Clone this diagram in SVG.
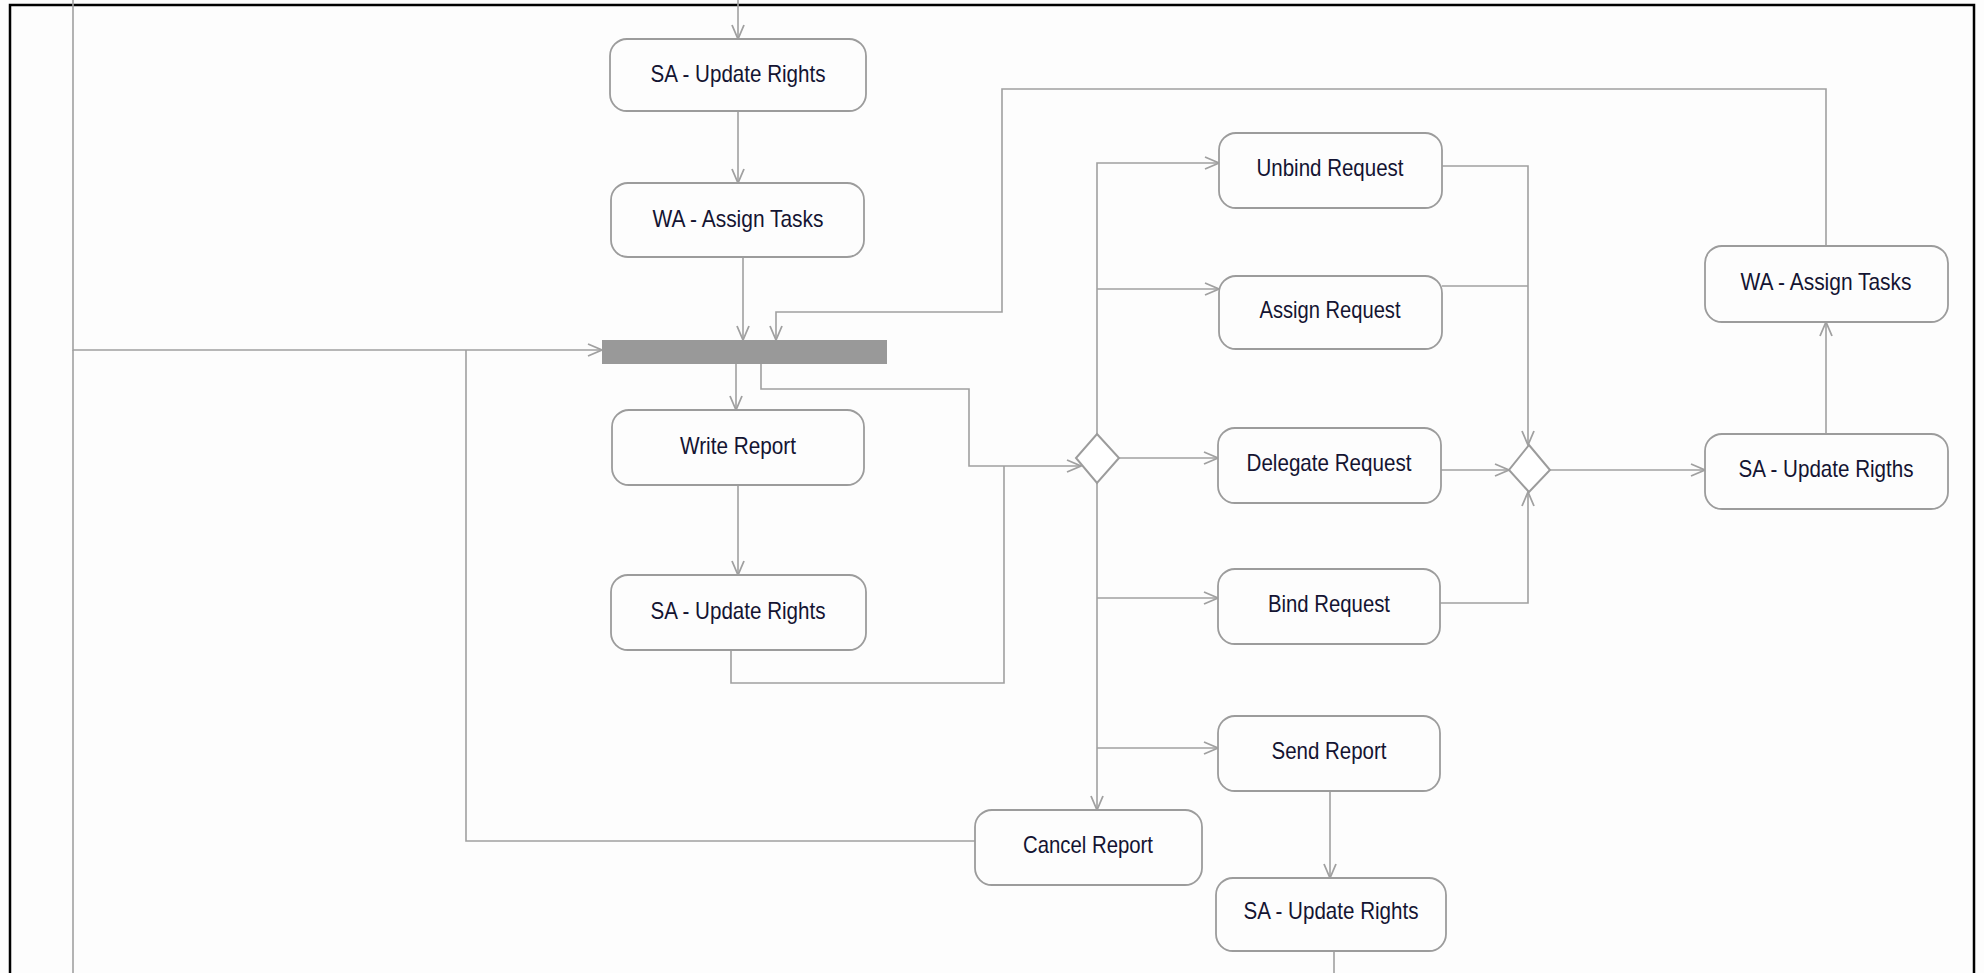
<svg xmlns="http://www.w3.org/2000/svg" width="1984" height="973" viewBox="0 0 1984 973">
  <style>
    .bg { fill: #fdfdfd; }
    .frame { fill: none; stroke: #000; stroke-width: 2.5; }
    .act { fill: #fdfdfd; stroke: #9c9c9c; stroke-width: 1.8; }
    .dec { fill: #fff; stroke: #9c9c9c; stroke-width: 2; }
    .bar { fill: #999999; }
    .lbl { font-family: "Liberation Sans", Arial, sans-serif; font-size: 24px; fill: #141432; text-anchor: middle; }
    .edge { fill: none; stroke: #a0a0a0; stroke-width: 1.6; }
    .arr { marker-end: url(#open); }
  </style>
  <defs>
    <marker id="open" markerUnits="userSpaceOnUse" markerWidth="20" markerHeight="16" viewBox="-16 -8 18 16" refX="0" refY="0" orient="auto">
      <path d="M-14,-6 L0,0 L-14,6" fill="none" stroke="#a0a0a0" stroke-width="1.8"/>
    </marker>
  </defs>

  <rect class="bg" x="0" y="0" width="1984" height="973"/>
  <path class="frame" d="M10,973 V5 H1974 V973"/>

  <!-- connectors -->
  <g id="connectors">
    <path class="edge arr" d="M738,0 V39"/>
    <path class="edge arr" d="M738,111 V183"/>
    <path class="edge arr" d="M743,257 V340"/>
    <path class="edge arr" d="M1826,246 V89 H1002 V312 H776 V340"/>
    <path class="edge arr" d="M73,0 V350 H602"/>
    <path class="edge" d="M73,350 V973"/>
    <path class="edge" d="M975,841 H466 V350"/>
    <path class="edge arr" d="M736,364 V410"/>
    <path class="edge arr" d="M761,364 V389 H969 V466 H1081"/>
    <path class="edge arr" d="M738,485 V575"/>
    <path class="edge" d="M731,650 V683 H1004 V466"/>
    <path class="edge arr" d="M1097,434 V163 H1219"/>
    <path class="edge arr" d="M1097,289 H1219"/>
    <path class="edge arr" d="M1119,458 H1218"/>
    <path class="edge arr" d="M1097,483 V810"/>
    <path class="edge arr" d="M1097,598 H1218"/>
    <path class="edge arr" d="M1097,748 H1218"/>
    <path class="edge arr" d="M1442,166 H1528 V445"/>
    <path class="edge" d="M1442,286 H1528"/>
    <path class="edge arr" d="M1441,470 H1509"/>
    <path class="edge arr" d="M1440,603 H1528 V492"/>
    <path class="edge arr" d="M1550,470 H1705"/>
    <path class="edge arr" d="M1826,434 V322"/>
    <path class="edge arr" d="M1330,791 V878"/>
    <path class="edge" d="M1334,951 V973"/>
  </g>

  <!-- fork bar -->
  <g id="fork">
    <rect class="bar" x="602" y="340" width="285" height="24"/>
  </g>

  <!-- decision / merge -->
  <g id="decision">
    <path class="dec" d="M1097,434 L1119,458 L1097,483 L1076,458 Z"/>
  </g>
  <g id="merge">
    <path class="dec" d="M1529,445 L1550,470 L1529,492 L1509,470 Z"/>
  </g>

  <!-- actions -->
  <g id="sa-update-rights-1">
    <rect class="act" x="610" y="39" width="256" height="72" rx="17"/>
    <text class="lbl" x="738" y="82" textLength="175" lengthAdjust="spacingAndGlyphs">SA - Update Rights</text>
  </g>
  <g id="wa-assign-tasks-1">
    <rect class="act" x="611" y="183" width="253" height="74" rx="17"/>
    <text class="lbl" x="738" y="227" textLength="171" lengthAdjust="spacingAndGlyphs">WA - Assign Tasks</text>
  </g>
  <g id="write-report">
    <rect class="act" x="612" y="410" width="252" height="75" rx="17"/>
    <text class="lbl" x="738" y="454" textLength="116" lengthAdjust="spacingAndGlyphs">Write Report</text>
  </g>
  <g id="sa-update-rights-2">
    <rect class="act" x="611" y="575" width="255" height="75" rx="17"/>
    <text class="lbl" x="738" y="619" textLength="175" lengthAdjust="spacingAndGlyphs">SA - Update Rights</text>
  </g>
  <g id="unbind-request">
    <rect class="act" x="1219" y="133" width="223" height="75" rx="17"/>
    <text class="lbl" x="1330" y="176" textLength="147" lengthAdjust="spacingAndGlyphs">Unbind Request</text>
  </g>
  <g id="assign-request">
    <rect class="act" x="1219" y="276" width="223" height="73" rx="17"/>
    <text class="lbl" x="1330" y="318" textLength="141" lengthAdjust="spacingAndGlyphs">Assign Request</text>
  </g>
  <g id="delegate-request">
    <rect class="act" x="1218" y="428" width="223" height="75" rx="17"/>
    <text class="lbl" x="1329" y="471" textLength="165" lengthAdjust="spacingAndGlyphs">Delegate Request</text>
  </g>
  <g id="bind-request">
    <rect class="act" x="1218" y="569" width="222" height="75" rx="17"/>
    <text class="lbl" x="1329" y="612" textLength="122" lengthAdjust="spacingAndGlyphs">Bind Request</text>
  </g>
  <g id="send-report">
    <rect class="act" x="1218" y="716" width="222" height="75" rx="17"/>
    <text class="lbl" x="1329" y="759" textLength="115" lengthAdjust="spacingAndGlyphs">Send Report</text>
  </g>
  <g id="cancel-report">
    <rect class="act" x="975" y="810" width="227" height="75" rx="17"/>
    <text class="lbl" x="1088" y="853" textLength="130" lengthAdjust="spacingAndGlyphs">Cancel Report</text>
  </g>
  <g id="sa-update-rights-3">
    <rect class="act" x="1216" y="878" width="230" height="73" rx="17"/>
    <text class="lbl" x="1331" y="919" textLength="175" lengthAdjust="spacingAndGlyphs">SA - Update Rights</text>
  </g>
  <g id="wa-assign-tasks-2">
    <rect class="act" x="1705" y="246" width="243" height="76" rx="17"/>
    <text class="lbl" x="1826" y="290" textLength="171" lengthAdjust="spacingAndGlyphs">WA - Assign Tasks</text>
  </g>
  <g id="sa-update-rigths">
    <rect class="act" x="1705" y="434" width="243" height="75" rx="17"/>
    <text class="lbl" x="1826" y="477" textLength="175" lengthAdjust="spacingAndGlyphs">SA - Update Rigths</text>
  </g>
</svg>
